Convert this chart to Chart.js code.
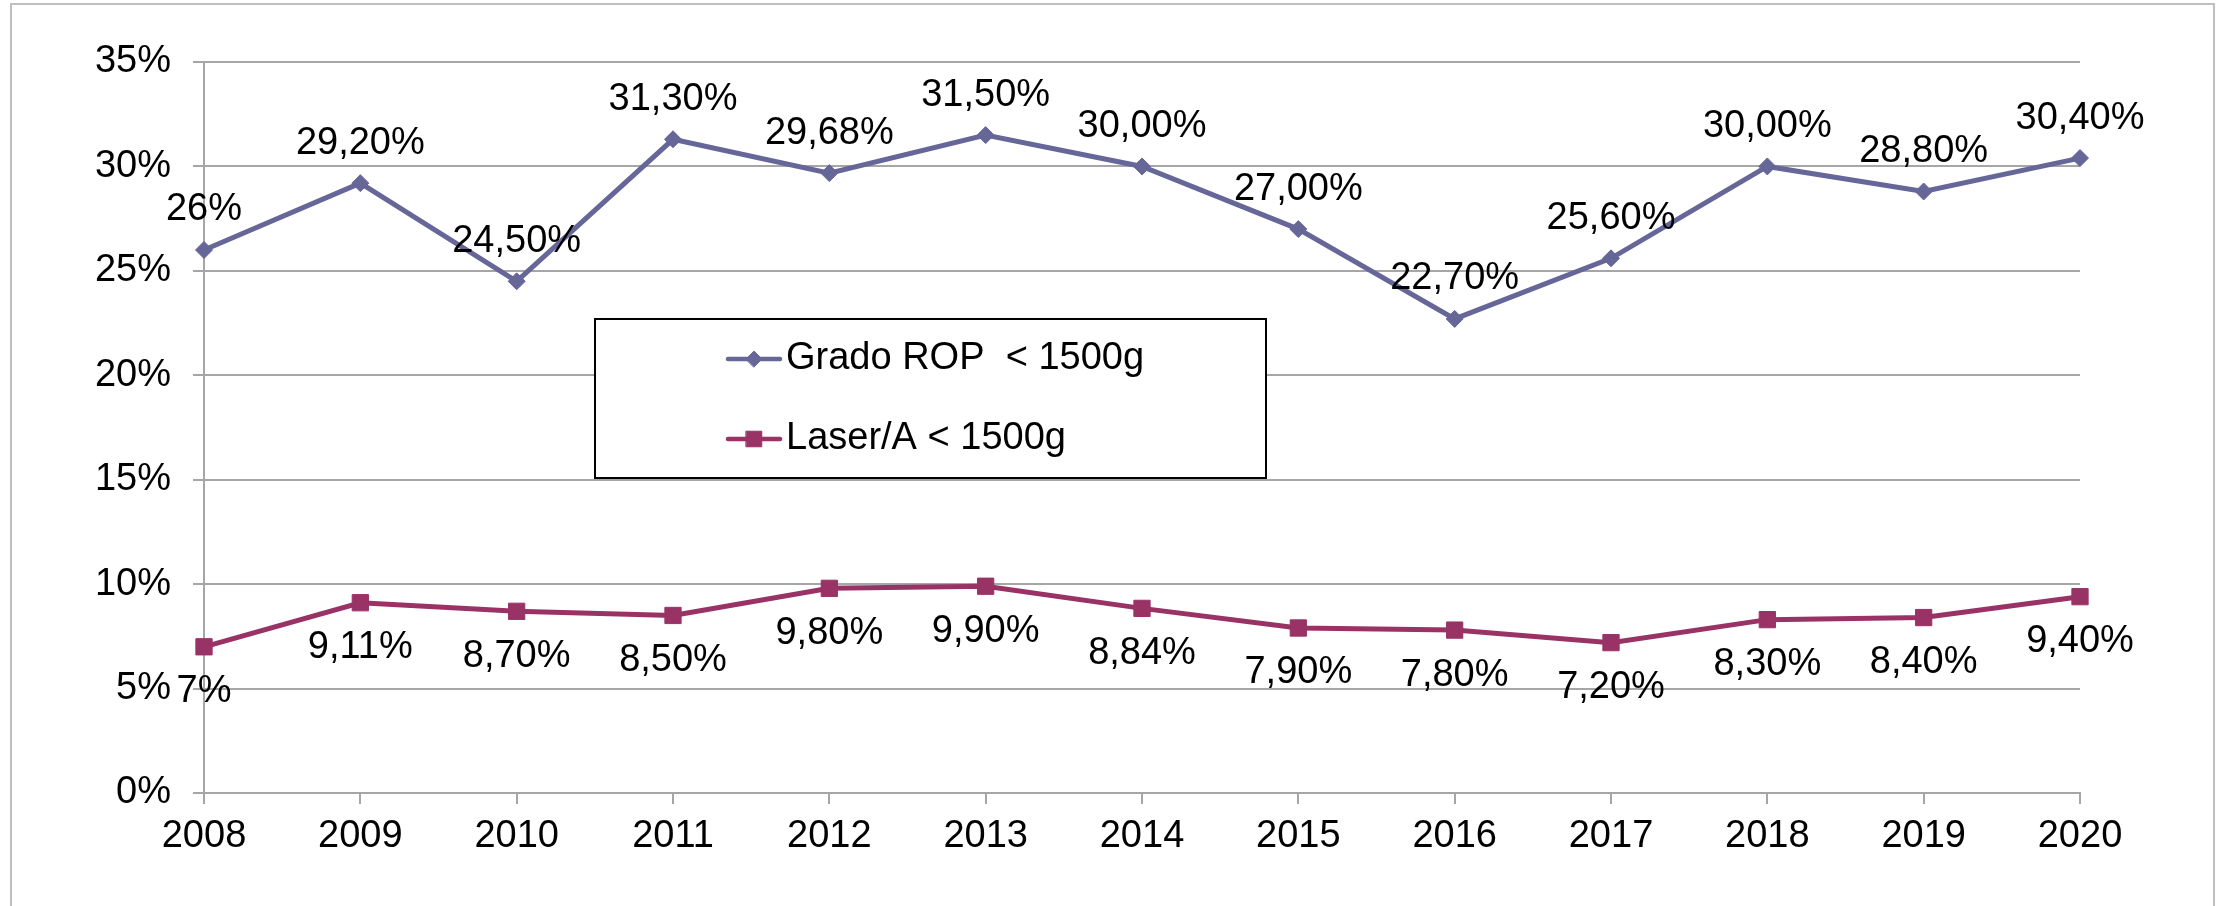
<!DOCTYPE html>
<html>
<head>
<meta charset="utf-8">
<script src="https://cdn.jsdelivr.net/npm/chart.js@4.4.0/dist/chart.umd.min.js"></script>
<style>
  html, body { margin: 0; padding: 0; background: #fff; }
  canvas { display: block; }
</style>
</head>
<body>
<canvas id="line_chart" width="2231" height="906"></canvas>
<script>
const years = ["2008", "2009", "2010", "2011", "2012", "2013", "2014", "2015", "2016", "2017", "2018", "2019", "2020"];

const gradoRop = [26, 29.2, 24.5, 31.3, 29.68, 31.5, 30, 27, 22.7, 25.6, 30, 28.8, 30.4];
const gradoRopLabels = ["26%", "29,20%", "24,50%", "31,30%", "29,68%", "31,50%", "30,00%", "27,00%", "22,70%", "25,60%", "30,00%", "28,80%", "30,40%"];

const laser = [7, 9.11, 8.7, 8.5, 9.8, 9.9, 8.84, 7.9, 7.8, 7.2, 8.3, 8.4, 9.4];
const laserLabels = ["7%", "9,11%", "8,70%", "8,50%", "9,80%", "9,90%", "8,84%", "7,90%", "7,80%", "7,20%", "8,30%", "8,40%", "9,40%"];

const seriesNames = ["Grado ROP  < 1500g", "Laser/A < 1500g"];

const FONT = "'Liberation Sans', Arial, sans-serif";
const FONT_SIZE = 38;
const GRID = "#a6a6a6";

// point labels: above for ROP, below for laser
const pointLabels = {
  id: "pointLabels",
  afterDatasetsDraw(chart) {
    const ctx = chart.ctx;
    const sets = [[gradoRopLabels, -40], [laserLabels, 45]];
    ctx.save();
    ctx.font = FONT_SIZE + "px " + FONT;
    ctx.fillStyle = "#000";
    ctx.textAlign = "center";
    ctx.textBaseline = "middle";
    sets.forEach(([labels, dy], i) => {
      chart.getDatasetMeta(i).data.forEach((pt, j) => {
        ctx.fillText(labels[j], pt.x, pt.y + dy);
      });
    });
    ctx.restore();
  },
};

// outer frame + boxed legend inside the plot
const frameAndLegend = {
  id: "frameAndLegend",
  beforeDraw(chart) {
    const ctx = chart.ctx;
    ctx.save();
    ctx.strokeStyle = "#bfbfbf";
    ctx.lineWidth = 2;
    ctx.beginPath();
    ctx.moveTo(11, 910);
    ctx.lineTo(11, 4);
    ctx.lineTo(2214, 4);
    ctx.lineTo(2214, 910);
    ctx.stroke();
    ctx.restore();
  },
  afterDraw(chart) {
    const ctx = chart.ctx;
    ctx.save();
    ctx.fillStyle = "#fff";
    ctx.fillRect(595, 319, 671, 159);
    ctx.strokeStyle = "#000";
    ctx.lineWidth = 2;
    ctx.strokeRect(595, 319, 671, 159);
    const rows = [359, 439];
    chart.data.datasets.forEach((ds, i) => {
      const y = rows[i];
      ctx.strokeStyle = ds.borderColor;
      ctx.lineWidth = 4.5;
      ctx.lineCap = "round";
      ctx.beginPath();
      ctx.moveTo(728, y);
      ctx.lineTo(780, y);
      ctx.stroke();
      ctx.fillStyle = ds.backgroundColor;
      ctx.strokeStyle = ds.borderColor;
      ctx.lineWidth = 1;
      Chart.helpers.drawPoint(ctx, { pointStyle: ds.pointStyle, radius: ds.pointRadius - 0.5, borderWidth: 1 }, 754, y);
      ctx.fillStyle = "#000";
      ctx.font = FONT_SIZE + "px " + FONT;
      ctx.textAlign = "left";
      ctx.textBaseline = "middle";
      ctx.fillText(ds.label, 786, y);
    });
    ctx.restore();
  },
};

const ctx = document.getElementById("line_chart");

new Chart(ctx, {
  type: "line",
  data: {
    labels: years,
    datasets: [
      {
        label: seriesNames[0],
        data: gradoRop,
        borderColor: "#666699",
        backgroundColor: "#666699",
        borderWidth: 5,
        pointStyle: "rectRot",
        pointRadius: 8.5,
        pointBorderWidth: 1,
        tension: 0,
      },
      {
        label: seriesNames[1],
        data: laser,
        borderColor: "#993366",
        backgroundColor: "#993366",
        borderWidth: 5,
        pointStyle: "rect",
        pointRadius: 11.5,
        pointBorderWidth: 1,
        tension: 0,
      },
    ],
  },
  options: {
    responsive: false,
    animation: false,
    devicePixelRatio: 1,
    layout: { padding: { left: 0, top: 62, right: 151, bottom: 0 } },
    plugins: {
      legend: { display: false },
      tooltip: { enabled: false },
    },
    scales: {
      x: {
        offset: false,
        afterFit(scale) { scale.height = 113; },
        grid: { drawOnChartArea: false, drawTicks: true, tickLength: 11, tickColor: GRID, lineWidth: 2 },
        border: { display: true, color: GRID, width: 2 },
        ticks: {
          color: "#000",
          font: { family: FONT, size: FONT_SIZE },
          padding: 10,
          maxRotation: 0,
          autoSkip: false,
        },
      },
      y: {
        min: 0,
        max: 35,
        afterFit(scale) { scale.width = 204; },
        grid: { color: GRID, lineWidth: 2, tickLength: 11, tickColor: GRID },
        border: { display: true, color: GRID, width: 2 },
        ticks: {
          stepSize: 5,
          color: "#000",
          font: { family: FONT, size: FONT_SIZE },
          padding: 22,
          callback: (v) => v + "%",
        },
      },
    },
  },
  plugins: [pointLabels, frameAndLegend],
});
</script>
</body>
</html>
